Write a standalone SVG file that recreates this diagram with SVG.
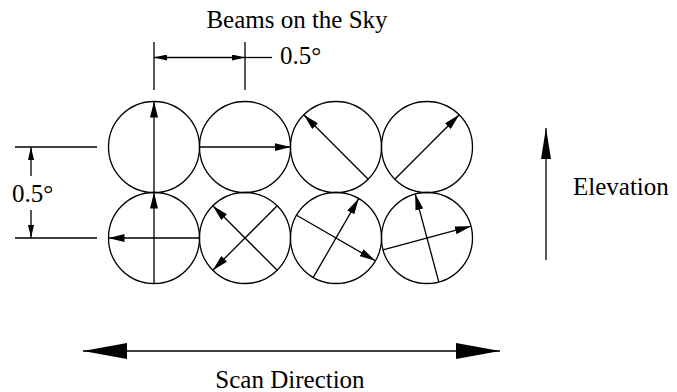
<svg xmlns="http://www.w3.org/2000/svg" width="677" height="392" viewBox="0 0 677 392">
<defs>
<style>
.c{fill:none;stroke:#000;stroke-width:1.3}
.l{fill:none;stroke:#000;stroke-width:1.3}
.a{fill:none;stroke:#000;stroke-width:1.3;marker-end:url(#ah)}
.t{font-size:25px;fill:#000}
</style>
<marker id="ah" viewBox="0 0 16 8" refX="16" refY="4" markerWidth="16" markerHeight="8" markerUnits="userSpaceOnUse" orient="auto">
<path d="M0,0 L16,4 L0,8 Z" fill="#000"/>
</marker>
<marker id="dm" viewBox="0 0 13 6" refX="13" refY="3" markerWidth="13" markerHeight="6" markerUnits="userSpaceOnUse" orient="auto">
<path d="M0,0 L13,3 L0,6 Z" fill="#000"/>
</marker>
<marker id="big" viewBox="0 0 44 16" refX="44" refY="8" markerWidth="44" markerHeight="16" markerUnits="userSpaceOnUse" orient="auto">
<path d="M0,0 L44,8 L0,16 Z" fill="#000"/>
</marker>
<marker id="elv" viewBox="0 0 31 10" refX="31" refY="5" markerWidth="31" markerHeight="10" markerUnits="userSpaceOnUse" orient="auto">
<path d="M0,0 L31,5 L0,10 Z" fill="#000"/>
</marker>
</defs>
<g font-family="Liberation Serif, Times New Roman, serif">
<text class="t" x="297" y="28" text-anchor="middle">Beams on the Sky</text>
<text class="t" x="280" y="64">0.5°</text>
<text class="t" x="12" y="202">0.5°</text>
<text class="t" x="573" y="195">Elevation</text>
<text class="t" x="290" y="388" text-anchor="middle">Scan Direction</text>
</g>
<g id="beam-1-1"><circle class="c" cx="154" cy="147" r="45.5"/><line class="a" x1="154" y1="192.5" x2="154" y2="101.5"/></g>
<g id="beam-1-2"><circle class="c" cx="245" cy="147" r="45.5"/><line class="a" x1="199.5" y1="147" x2="290.5" y2="147"/></g>
<g id="beam-1-3"><circle class="c" cx="336" cy="147" r="45.5"/><line class="a" x1="368.2" y1="179.2" x2="303.8" y2="114.8"/></g>
<g id="beam-1-4"><circle class="c" cx="427" cy="147" r="45.5"/><line class="a" x1="394.8" y1="179.2" x2="459.2" y2="114.8"/></g>
<g id="beam-2-1"><circle class="c" cx="154" cy="238" r="45.5"/><line class="a" x1="154" y1="283.5" x2="154" y2="192.5"/><line class="a" x1="199.5" y1="238" x2="108.5" y2="238"/></g>
<g id="beam-2-2"><circle class="c" cx="245" cy="238" r="45.5"/><line class="a" x1="277.2" y1="205.8" x2="212.8" y2="270.2"/><line class="a" x1="277.2" y1="270.2" x2="212.8" y2="205.8"/></g>
<g id="beam-2-3"><circle class="c" cx="336" cy="238" r="45.5"/><line class="a" x1="296.6" y1="215.25" x2="375.4" y2="260.75"/><line class="a" x1="313.25" y1="277.4" x2="358.75" y2="198.6"/></g>
<g id="beam-2-4"><circle class="c" cx="427" cy="238" r="45.5"/><line class="a" x1="383.05" y1="249.78" x2="470.95" y2="226.22"/><line class="a" x1="438.78" y1="281.95" x2="415.22" y2="194.05"/></g>
<g id="connectors">
<line class="l" x1="154" y1="42" x2="154" y2="90"/>
<line class="l" x1="245" y1="42" x2="245" y2="90"/>
<line class="l" x1="199" y1="57.5" x2="154" y2="57.5" style="marker-end:url(#dm)"/>
<line class="l" x1="199" y1="57.5" x2="245" y2="57.5" style="marker-end:url(#dm)"/>
<line class="l" x1="245" y1="57.5" x2="272" y2="57.5"/>
<line class="l" x1="15" y1="147" x2="97" y2="147"/>
<line class="l" x1="15" y1="238" x2="97" y2="238"/>
<line class="l" x1="31" y1="176" x2="31" y2="147" style="marker-end:url(#dm)"/>
<line class="l" x1="31" y1="210" x2="31" y2="238" style="marker-end:url(#dm)"/>
<line class="l" x1="546" y1="260" x2="546" y2="128" style="marker-end:url(#elv)"/>
<line class="l" x1="291" y1="351" x2="83" y2="351" style="marker-end:url(#big)"/>
<line class="l" x1="291" y1="351" x2="500" y2="351" style="marker-end:url(#big)"/>
</g>
</svg>
